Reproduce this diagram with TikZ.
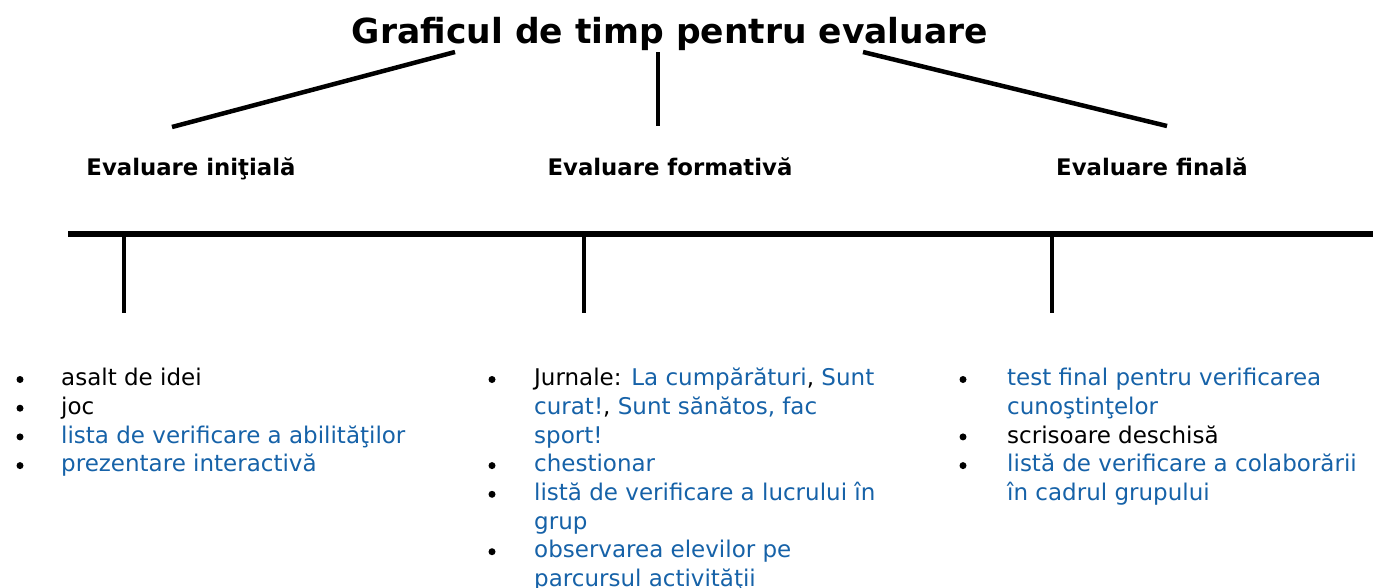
\documentclass[tikz,border=0pt]{standalone}
\usepackage{fontspec}
\setmainfont{DejaVu Sans}
\definecolor{linkblue}{RGB}{22,98,168}
\tikzset{
  titlebox/.style={anchor=base, inner sep=0pt, font=\bfseries\fontsize{34.5}{40}\selectfont},
  head/.style={anchor=base, inner sep=0pt, font=\bfseries\fontsize{22.8}{27}\selectfont},
  item/.style={anchor=base west, align=left, inner sep=0pt, font=\fontsize{23}{28.7}\selectfont},
  blueitem/.style={item, text=linkblue},
  dot/.style={circle, fill, inner sep=0pt, minimum size=7pt},
  arm/.style={line width=4.5pt},
  tick/.style={line width=3.5pt},
}
\begin{document}
\begin{tikzpicture}[x=1pt,y=-1pt]
\useasboundingbox (0,0) rectangle (1373,587);

\node[titlebox] (title) at (670,43) {Graficul de timp pentru evaluare};

\node[head] (init) at (191,175) {Evaluare iniţială};
\node[head] (form) at (670,175) {Evaluare formativă};
\node[head] (fin) at (1152,175) {Evaluare finală};

\coordinate (ta) at (455,52);
\coordinate (tb) at (658,52);
\coordinate (tc) at (863,52);
\coordinate (ha) at (172,127);
\coordinate (hb) at (658,126);
\coordinate (hc) at (1167,126);
\draw[arm] (ta) -- (ha);
\draw[arm] (tb) -- (hb);
\draw[arm] (tc) -- (hc);

% timeline
\coordinate (left) at (68,234);
\coordinate (right) at (1373,234);
\draw[line width=6.5pt] (left) -- (right);

\coordinate (ka) at (124,234);
\coordinate (kb) at (584,234);
\coordinate (kc) at (1052,234);
\coordinate (la) at (124,313);
\coordinate (lb) at (584,313);
\coordinate (lc) at (1052,313);
\draw[tick] (ka) -- (la);
\draw[tick] (kb) -- (lb);
\draw[tick] (kc) -- (lc);

% initiala
\node[dot] (da1) at (20,379.5) {};
\node[dot] (da2) at (20,408.2) {};
\node[dot] (da3) at (20,436.9) {};
\node[dot] (da4) at (20,465.6) {};
\node[item] (a1) at (61,385.7) {asalt de idei};
\node[item] (a2) at (61,414.4) {joc};
\node[blueitem] (a3) at (61,443.1) {lista de verificare a abilităţilor};
\node[blueitem] (a4) at (61,471.8) {prezentare interactivă};

% formativa (multi-line nodes sit on their last line)
\node[dot] (db1) at (492,379.5) {};
\node[dot] (db2) at (492,465.6) {};
\node[dot] (db3) at (492,494.3) {};
\node[dot] (db4) at (492,551.7) {};
\node[item] (b1) at (534,443.1) {Jurnale: \textcolor{linkblue}{La cumpărături}, \textcolor{linkblue}{Sunt}\\
  \textcolor{linkblue}{curat!}, \textcolor{linkblue}{Sunt sănătos, fac}\\
  \textcolor{linkblue}{sport!}};
\node[blueitem] (b2) at (534,471.8) {chestionar};
\node[blueitem] (b3) at (534,529.2) {listă de verificare a lucrului în\\grup};
\node[blueitem] (b4) at (534,586.6) {observarea elevilor pe\\parcursul activităţii};

% finala
\node[dot] (dc1) at (963,379.5) {};
\node[dot] (dc2) at (963,436.9) {};
\node[dot] (dc3) at (963,465.6) {};
\node[blueitem] (c1) at (1007,414.4) {test final pentru verificarea\\cunoştinţelor};
\node[item] (c2) at (1007,443.1) {scrisoare deschisă};
\node[blueitem] (c3) at (1007,500.5) {listă de verificare a colaborării\\în cadrul grupului};
\end{tikzpicture}
\end{document}
